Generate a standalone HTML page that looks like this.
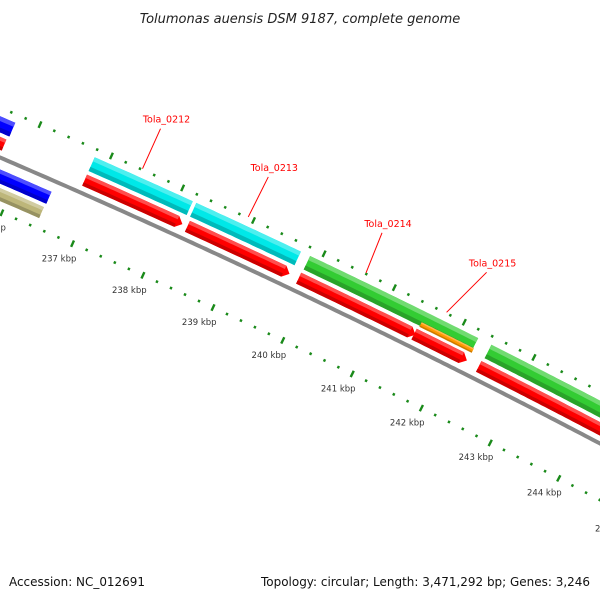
<!DOCTYPE html>
<html><head><meta charset="utf-8"><style>
body{margin:0;background:#fff}
svg{display:block}
text{font-family:"DejaVu Sans","Liberation Sans",sans-serif}
</style></head><body>
<svg id="c" width="600" height="600" viewBox="0 0 600 600">
<text x="300" y="23" text-anchor="middle" font-size="13" font-style="italic" fill="#222">Tolumonas auensis DSM 9187, complete genome</text>
<text x="9" y="586" font-size="12" fill="#111" textLength="136" lengthAdjust="spacingAndGlyphs">Accession: NC_012691</text>
<text x="261" y="586" font-size="12" fill="#111" textLength="329" lengthAdjust="spacingAndGlyphs">Topology: circular; Length: 3,471,292 bp; Genes: 3,246</text>
<g id="map"></g>
<g id="labels"></g>
</svg>
<script>
// data (kbp)
const geneStarts = [236.81, 238.24, 239.85, 242.44, 241.51, 236.81, 238.26, 239.84, 241.49, 242.42, 230, 230, 230, 230];
const geneEnds   = [238.19, 239.72, 242.25, 247.5, 242.26, 238.19, 239.71, 241.51, 242.25, 247.5, 235.7, 235.68, 236.48, 236.47];
const geneColors = ["#00e8e8","#00e8e8","#33cc33","#33cc33","#ff9900","#ff0000","#ff0000","#ff0000","#ff0000","#ff0000","#0000ff","#ff0000","#0000ff","#bdb67a"];
const geneTracks = ["outer","outer","outer","outer","orange","fwd","fwd","fwd","fwd","fwd","outer","fwd","rev","rev2"];
const geneArrow  = [0,0,0,0,0,1,1,1,1,0,0,0,0,0];
const tickKbp = [235,236,237,238,239,240,241,242,243,244,245,246];
const tickLabels = ["235 kbp","236 kbp","237 kbp","238 kbp","239 kbp","240 kbp","241 kbp","242 kbp","243 kbp","244 kbp","245 kbp","246 kbp"];
const calloutNames = ["Tola_0212","Tola_0213","Tola_0214","Tola_0215"];
const calloutKbp = [237.43, 238.92, 240.59, 241.74];
const calloutDx = [18, 20, 16, 40];

const NS="http://www.w3.org/2000/svg";
const map=document.getElementById('map'), lab=document.getElementById('labels');
const R=8400, CX=-3312, CY=7877, PXK=77.6, K0=240, PHI0=-64.5*Math.PI/180;
function phi(k){return PHI0+(k-K0)*PXK/R;}
function pt(k,v){const r=R-v, a=phi(k);return [CX+r*Math.cos(a), CY+r*Math.sin(a)];}
function mk(tag,attrs,parent){const e=document.createElementNS(NS,tag);for(const k in attrs)e.setAttribute(k,attrs[k]);parent.appendChild(e);return e;}
function band(k0,k1,v0,v1,tip){
  const pts=[], n=Math.max(2,Math.ceil((k1-k0)/0.05));
  const ke=k1-tip;
  for(let i=0;i<=n;i++){const k=k0+(ke-k0)*i/n;pts.push(pt(k,v0));}
  if(tip>0)pts.push(pt(k1,(v0+v1)/2));
  for(let i=n;i>=0;i--){const k=k0+(ke-k0)*i/n;pts.push(pt(k,v1));}
  return pts.map(p=>p[0].toFixed(1)+','+p[1].toFixed(1)).join(' ');
}
const tracks={outer:[-38,-23],orange:[-27,-22],fwd:[-19,-7],rev:[11,24],rev2:[28,40]};

// backbone
const bb=mk('polygon',{points:band(228,250,-2,2,0),fill:'#888'},map);



// ticks
for(let k=228;k<=249.001;k+=0.2){
  const kk=Math.round(k*10)/10, big=Math.abs(kk-Math.round(kk))<0.01;
  const L=big?7:2.6;
  [-46,50].forEach(v=>{
    const a=pt(kk,v-L/2), b=pt(kk,v+L/2);
    const t=mk('line',{x1:a[0],y1:a[1],x2:b[0],y2:b[1],stroke:'#1a8a1a','stroke-width':2.4},map);
    
    
  });
}
tickKbp.forEach((k,i)=>{
  const p=pt(k,66);
  const t=mk('text',{x:p[0]-7,y:p[1]+3,'text-anchor':'middle','font-size':8.5,fill:'#333'},lab);
  t.textContent=tickLabels[i];
  
  
});

// genes
function shade(c,f){const n=parseInt(c.slice(1),16);let r=n>>16,g=(n>>8)&255,b=n&255;
  if(f>0){r=r+(255-r)*f;g=g+(255-g)*f;b=b+(255-b)*f;}else{r*=1+f;g*=1+f;b*=1+f;}
  return 'rgb('+Math.round(r)+','+Math.round(g)+','+Math.round(b)+')';}
geneStarts.forEach((s,i)=>{
  const tr=tracks[geneTracks[i]], e=geneEnds[i], y0=tr[0], y1=tr[1], h=y1-y0;
  const g=mk('g',{},map);
  
  
  const tip=geneArrow[i]?0.08:0;
  mk('polygon',{points:band(s,e,y0,y1,tip),fill:geneColors[i]},g);
  mk('polygon',{points:band(s,e-tip,y0,y0+h*0.3,0),fill:shade(geneColors[i],0.3)},g);
  mk('polygon',{points:band(s,e-tip,y1-h*0.3,y1,0),fill:shade(geneColors[i],-0.2)},g);
});

// callouts
calloutNames.forEach((n,i)=>{
  const a=pt(calloutKbp[i],-47), b=[a[0]+calloutDx[i],a[1]-40];
  const l=mk('line',{x1:a[0],y1:a[1],x2:b[0],y2:b[1],stroke:'#ff0000','stroke-width':1},lab);
  
  
  const t=mk('text',{x:b[0]+6,y:b[1]-6,'text-anchor':'middle','font-size':9.5,fill:'#ff0000'},lab);
  t.textContent=n;
  
  
});
</script>
</body></html>
